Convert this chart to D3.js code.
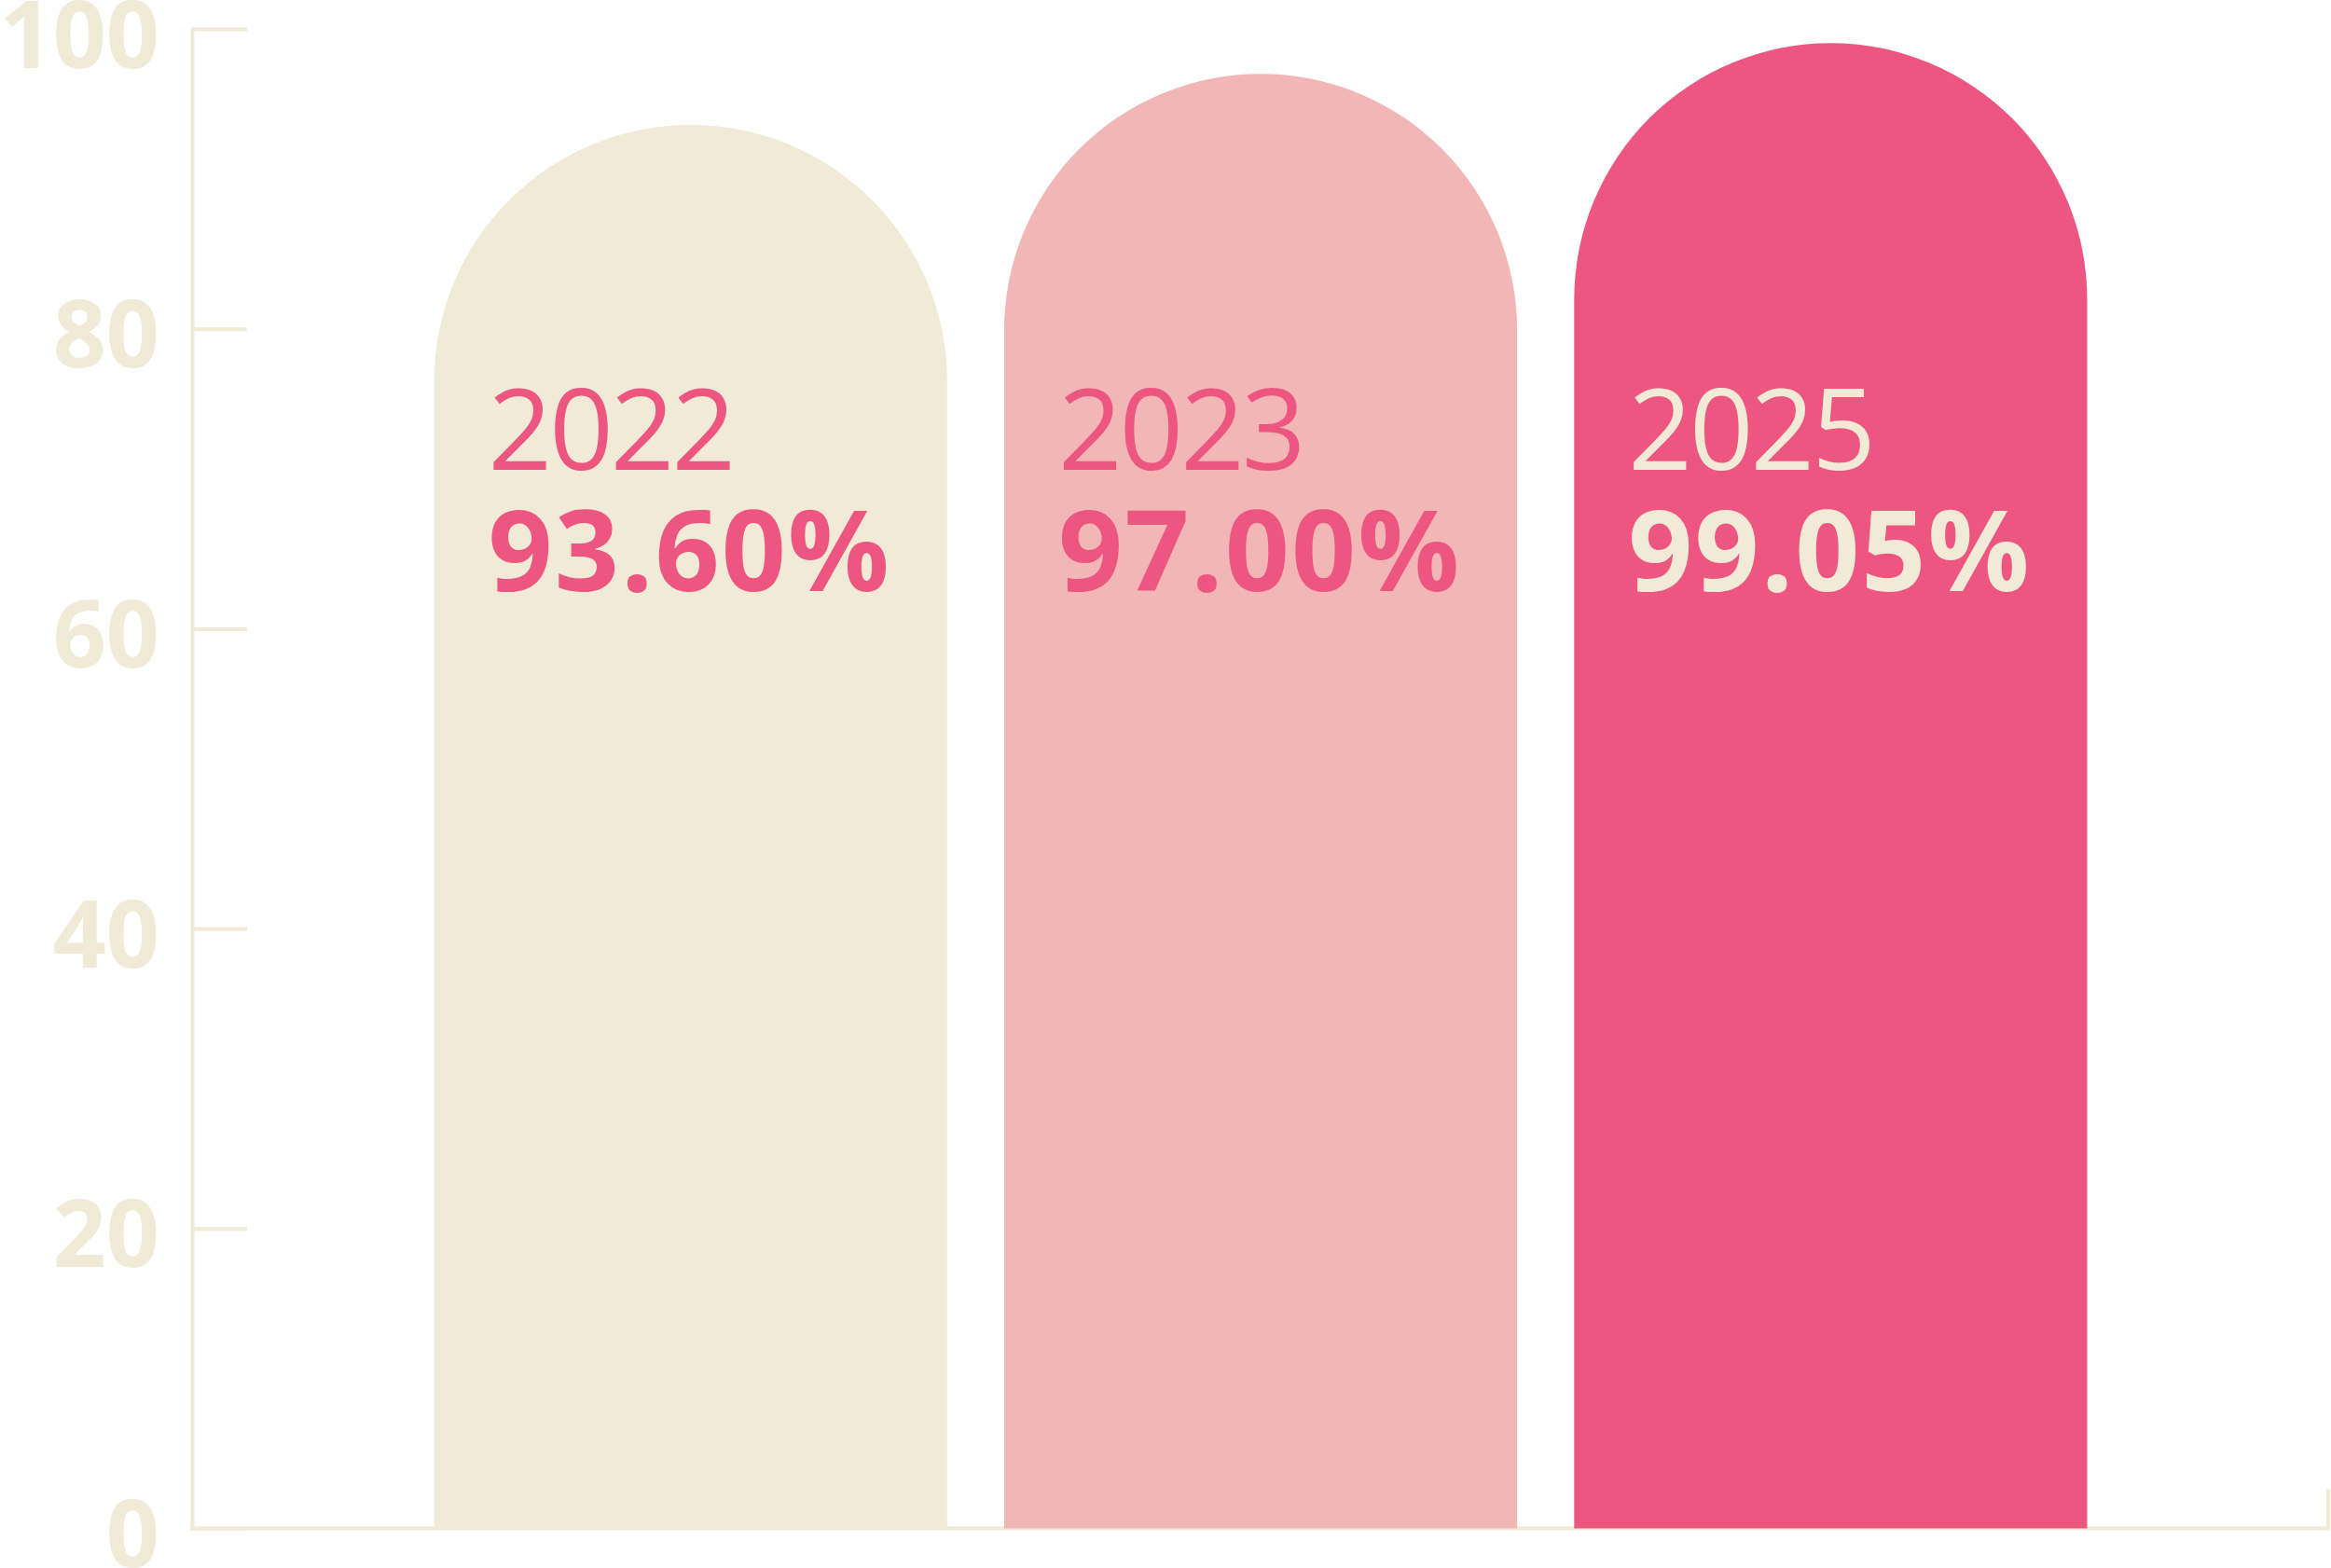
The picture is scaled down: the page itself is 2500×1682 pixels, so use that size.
<!DOCTYPE html>
<html>
<head>
<meta charset="utf-8">
<script src="https://cdn.jsdelivr.net/npm/d3@7"></script>
<style>
  html, body { margin: 0; padding: 0; background: #fff; }
  svg { display: block; }
  text { font-family: "Open Sans", "Noto Sans", sans-serif; }
</style>
</head>
<body>
<svg id="chart" width="2500" height="1682"></svg>
<script>
// chart data
var years = ["2022", "2023", "2025"]
var rates = [93.60, 97.00, 99.05]
var barColours = ["#F1EAD7", "#F2B6B6", "#EE5682"]
var labelColours = ["#EE5682", "#EE5682", "#F1EAD7"]
var yTicks = [0, 20, 40, 60, 80, 100]

var cream = "#F1EAD7"

var svg = d3.select("#chart")

var y = d3.scaleLinear()
  .domain([0, 100])
  .range([1639.5, 31])

var x = d3.scaleBand()
  .domain(years)
  .range([465.6, 2238.5])
  .paddingInner(0.1)
  .paddingOuter(0)

var bars = years.map(function(yr, i){
  return {year: yr, rate: rates[i], fill: barColours[i], label: labelColours[i]}
})

/*
  Baseline with end tick (drawn under the bars)
*/
svg.append("path")
  .attr("d", "M204," + y(0) + "H2497V" + (y(0) - 42))
  .attr("fill", "none")
  .attr("stroke", cream)
  .attr("stroke-width", 4)

/*
  Bars: rectangle with a semicircular top, total height = value
*/
var barPath = function(d){
  var x0 = x(d.year)
  var w = x.bandwidth()
  var r = w / 2
  var yb = y(0)
  var yt = y(d.rate)
  return "M" + x0 + "," + yb +
    "L" + x0 + "," + (yt + r) +
    "A" + r + "," + r + " 0 0 1 " + (x0 + w) + "," + (yt + r) +
    "L" + (x0 + w) + "," + yb + "Z"
}

svg.append("g")
  .selectAll("path")
  .data(bars)
  .enter()
  .append("path")
  .attr("d", barPath)
  .attr("fill", function(d){ return d.fill })

/*
  Labels inside the bars
*/
var labels = svg.append("g")
  .selectAll("g")
  .data(bars)
  .enter()
  .append("g")
  .attr("transform", function(d){ return "translate(" + (x(d.year) + 58) + ",0)" })

labels.append("text")
  .attr("y", 504)
  .attr("font-size", 120)
  .attr("font-weight", 400)
  .attr("letter-spacing", -3)
  .attr("fill", function(d){ return d.label })
  .text(function(d){ return d.year })

labels.append("text")
  .attr("y", 634)
  .attr("font-size", 121)
  .attr("font-weight", 700)
  .attr("letter-spacing", 2)
  .attr("fill", function(d){ return d.label })
  .text(function(d){ return d3.format(".2f")(d.rate) + "%" })

/*
  Y axis
*/
var yAxis = d3.axisLeft(y)
  .tickValues(yTicks)
  .tickSizeInner(-59)
  .tickSizeOuter(0)
  .tickPadding(35)

var axisG = svg.append("g")
  .attr("transform", "translate(206,0)")
  .call(yAxis)

axisG.select(".domain")
  .attr("stroke", cream)
  .attr("stroke-width", 4)
  .attr("stroke-linecap", "square")

axisG.selectAll(".tick line")
  .attr("stroke", cream)
  .attr("stroke-width", 4)

axisG.selectAll(".tick text")
  .attr("fill", cream)
  .attr("font-size", 100)
  .attr("font-weight", 700)
  .attr("font-family", "'Open Sans', sans-serif")
  .attr("dy", "0.41em")
</script>
</body>
</html>
